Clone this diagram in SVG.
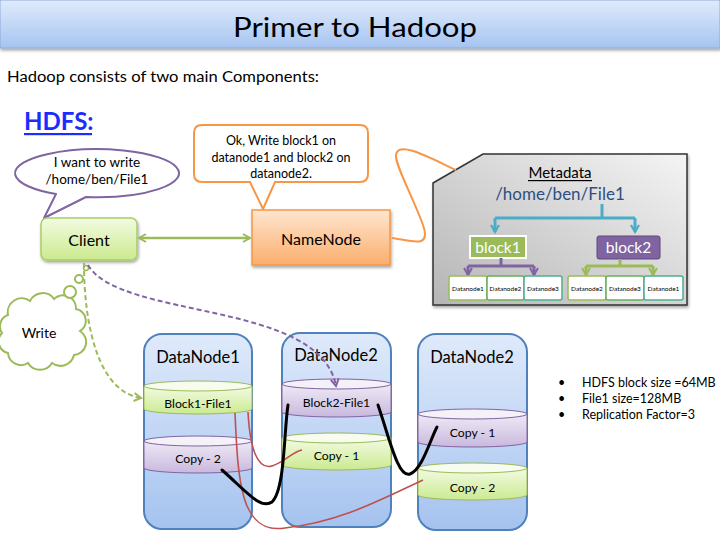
<svg xmlns="http://www.w3.org/2000/svg" width="720" height="540" viewBox="0 0 720 540">
<style>
text{font-family:Lato,"Liberation Sans",sans-serif;fill:#000}
.c{text-anchor:middle}
.dn{font-size:16.5px}
.cyl{font-size:12.2px}
.col{stroke:#4f81bd;stroke-width:2;fill:url(#gCol)}
.gb{fill:url(#gGreen);stroke:#9bbb59;stroke-width:1}
.gt{fill:#f7fcee;stroke:#9bbb59;stroke-width:1}
.pb{fill:url(#gPurple);stroke:#8064a2;stroke-width:1}
.pt{fill:#f5f1f9;stroke:#8064a2;stroke-width:1}
.small{font-size:6.5px}
.red{fill:none;stroke:#c0504d;stroke-width:1.6}
.blk{fill:none;stroke:#000;stroke-width:3;stroke-linecap:round}
</style>
<defs>
<linearGradient id="gTitle" x1="0" y1="0" x2="0" y2="1"><stop offset="0" stop-color="#e0ebfb"/><stop offset="1" stop-color="#a6c4f1"/></linearGradient>
<linearGradient id="gCol" x1="0" y1="0" x2="0" y2="1"><stop offset="0" stop-color="#dfeafb"/><stop offset="1" stop-color="#a5c3ef"/></linearGradient>
<linearGradient id="gGreen" x1="0" y1="0" x2="0" y2="1"><stop offset="0" stop-color="#f3fbe3"/><stop offset="1" stop-color="#cbea91"/></linearGradient>
<linearGradient id="gPurple" x1="0" y1="0" x2="0" y2="1"><stop offset="0" stop-color="#efeaf5"/><stop offset="1" stop-color="#c9b9de"/></linearGradient>
<linearGradient id="gClient" x1="0" y1="0" x2="0" y2="1"><stop offset="0" stop-color="#f3fbe2"/><stop offset="1" stop-color="#cbea8e"/></linearGradient>
<linearGradient id="gName" x1="0" y1="0" x2="0" y2="1"><stop offset="0" stop-color="#fee6d0"/><stop offset="1" stop-color="#fbae6c"/></linearGradient>
<linearGradient id="gMeta" x1="1" y1="0" x2="0" y2="1"><stop offset="0" stop-color="#f4f4f4"/><stop offset="1" stop-color="#b5b5b5"/></linearGradient>
<filter id="sh" x="-10%" y="-10%" width="130%" height="130%"><feDropShadow dx="1" dy="2" stdDeviation="1.5" flood-color="#000" flood-opacity="0.35"/></filter>
<marker id="aG" markerWidth="10" markerHeight="10" refX="8" refY="5" orient="auto-start-reverse" markerUnits="userSpaceOnUse"><path d="M1,1 L8,5 L1,9" fill="none" stroke="#9bbb59" stroke-width="2"/></marker>
<marker id="aP" markerWidth="10" markerHeight="10" refX="8" refY="5" orient="auto" markerUnits="userSpaceOnUse"><path d="M1,1 L8,5 L1,9" fill="none" stroke="#8064a2" stroke-width="2"/></marker>
<marker id="aT" markerWidth="10" markerHeight="10" refX="8" refY="5" orient="auto" markerUnits="userSpaceOnUse"><path d="M1,1 L8,5 L1,9" fill="none" stroke="#4bacc6" stroke-width="2.2"/></marker>
</defs>

<rect width="720" height="540" fill="#fff"/>

<g id="title">
<rect x="0" y="0" width="720" height="48" fill="url(#gTitle)" stroke="#8eaad8" stroke-width="1" filter="url(#sh)"/>
<text x="233" y="37" font-size="27" textLength="244" lengthAdjust="spacingAndGlyphs">Primer to Hadoop</text>
</g>
<text x="7" y="82" font-size="14.5" textLength="312" lengthAdjust="spacingAndGlyphs">Hadoop consists of two main Components:</text>
<g id="hdfs-label">
<text x="24" y="130" font-size="24" font-weight="bold" style="fill:#1a2dff">HDFS:</text>
<rect x="24" y="133" width="68" height="2.2" fill="#1a2dff"/>
</g>

<g id="client-bubble">
<path d="M44,218 L56,194 A82,24 0 1 1 86,197 Z" fill="#fff" stroke="#8064a2" stroke-width="2" stroke-linejoin="round"/>
<text x="97" y="167" class="c" font-size="13.5">I want to write</text>
<text x="97" y="184" class="c" font-size="13.5">/home/ben/File1</text>
</g>

<g id="name-callout">
<path d="M202,125 H360 Q368,125 368,133 V174 Q368,182 360,182 H275 L263,209 L250,182 H202 Q194,182 194,174 V133 Q194,125 202,125 Z" fill="#fff" stroke="#f79646" stroke-width="2"/>
<text x="281" y="145" class="c" font-size="12.5">Ok, Write block1 on</text>
<text x="281" y="162" class="c" font-size="12.5">datanode1 and block2 on</text>
<text x="281" y="178" class="c" font-size="12.5">datanode2.</text>
</g>

<g id="client">
<rect x="41" y="218" width="96" height="42" rx="6" fill="url(#gClient)" stroke="#a9cd6a" stroke-width="1.5" filter="url(#sh)"/>
<text x="89" y="246" class="c" font-size="16">Client</text>
</g>

<g id="namenode">
<rect x="252" y="210" width="138" height="55" fill="url(#gName)" stroke="#f79646" stroke-width="1.5" filter="url(#sh)"/>
<text x="321" y="245" class="c" font-size="16">NameNode</text>
</g>

<g id="metadata">
<polygon points="433,183 483,154 687,154 687,305 433,305" fill="url(#gMeta)" stroke="#333" stroke-width="1.5" filter="url(#sh)"/>
<text x="560" y="178" class="c" font-size="15">Metadata</text>
<rect x="528" y="180" width="64" height="1.2" fill="#000"/>
<text x="560" y="200" class="c" font-size="17" style="fill:#2d4f80">/home/ben/File1</text>
<g fill="none" stroke="#4bacc6" stroke-width="3">
<path d="M602,204 V218"/>
<path d="M495,218 H635"/>
<path d="M495,218 V232" marker-end="url(#aT)"/>
<path d="M635,218 V232" marker-end="url(#aT)"/>
</g>
<rect x="470" y="236" width="56" height="22" fill="#9bbb59" stroke="#fff" stroke-width="2"/>
<text x="498" y="253" class="c" font-size="15.5" style="fill:#fff">block1</text>
<rect x="597" y="236" width="63" height="23" rx="2" fill="#8064a2" stroke="#5f497a" stroke-width="1"/>
<text x="628.5" y="253" class="c" font-size="15.5" style="fill:#fff">block2</text>
<g fill="none" stroke="#8064a2" stroke-width="3">
<path d="M501,258 V266 M468,266 H534"/>
<path d="M468,266 V275" marker-end="url(#aP)"/>
<path d="M534,266 V275" marker-end="url(#aP)"/>
</g>
<g fill="none" stroke="#9bbb59" stroke-width="3">
<path d="M620,259 V266 M586,266 H653"/>
<path d="M586,266 V275" marker-end="url(#aG)"/>
<path d="M653,266 V275" marker-end="url(#aG)"/>
</g>
<g stroke-width="1.5" fill="#fff">
<rect x="449" y="276" width="38" height="24" rx="2" stroke="#9bbb59"/>
<rect x="487" y="276" width="37" height="24" rx="2" stroke="#6aaf5a"/>
<rect x="524" y="276" width="38" height="24" rx="2" stroke="#4fae8c"/>
<rect x="568" y="276" width="38" height="24" rx="2" stroke="#9bbb59"/>
<rect x="606" y="276" width="38" height="24" rx="2" stroke="#6aaf5a"/>
<rect x="644" y="276" width="39" height="24" rx="2" stroke="#4fae8c"/>
</g>
<text x="468" y="291" class="c small">Datanode1</text>
<text x="505.5" y="291" class="c small">Datanode2</text>
<text x="543" y="291" class="c small">Datanode3</text>
<text x="587" y="291" class="c small">Datanode2</text>
<text x="625" y="291" class="c small">Datanode3</text>
<text x="663.5" y="291" class="c small">Datanode1</text>
</g>

<g id="write-cloud">
<path d="M8,315 A14,14 0 0 1 30,301 A14,14 0 0 1 54,299 A13,13 0 0 1 76,309 A12,12 0 0 1 80,331 A13,13 0 0 1 74,355 A14,14 0 0 1 52,363 A14,14 0 0 1 28,363 A13,13 0 0 1 8,353 A12,12 0 0 1 2,333 A12,12 0 0 1 8,315 Z" fill="#fff" stroke="#9bbb59" stroke-width="2"/>
<circle cx="70" cy="292" r="6" fill="#fff" stroke="#9bbb59" stroke-width="2"/>
<circle cx="79" cy="279" r="4" fill="#fff" stroke="#9bbb59" stroke-width="2"/>
<circle cx="86" cy="268" r="2.5" fill="#fff" stroke="#9bbb59" stroke-width="1.5"/>
<text x="39" y="338" class="c" font-size="14">Write</text>
</g>

<g id="datanode1">
<rect x="144" y="334" width="108" height="195" rx="18" class="col"/>
<text x="198" y="363" class="c dn">DataNode1</text>
<path d="M144,386 V409 A54,5 0 0 0 252,409 V386 Z" class="gb"/>
<ellipse cx="198" cy="386" rx="54" ry="5" class="gt"/>
<text x="198" y="408" class="c cyl">Block1-File1</text>
<path d="M144,441 V468 A54,5 0 0 0 252,468 V441 Z" class="pb"/>
<ellipse cx="198" cy="441" rx="54" ry="5" class="pt"/>
<text x="198" y="463" class="c cyl">Copy - 2</text>
</g>

<g id="datanode2a">
<rect x="282" y="333" width="109" height="194" rx="18" class="col"/>
<text x="336" y="361" class="c dn">DataNode2</text>
<path d="M282,384 V412 A54.5,5 0 0 0 391,412 V384 Z" class="pb"/>
<ellipse cx="336.5" cy="384" rx="54.5" ry="5" class="pt"/>
<text x="336.5" y="407" class="c cyl">Block2-File1</text>
<path d="M282,438 V465 A54.5,5 0 0 0 391,465 V438 Z" class="gb"/>
<ellipse cx="336.5" cy="438" rx="54.5" ry="5" class="gt"/>
<text x="336.5" y="460" class="c cyl">Copy - 1</text>
</g>

<g id="datanode2b">
<rect x="418" y="334" width="109" height="196" rx="18" class="col"/>
<text x="472" y="363" class="c dn">DataNode2</text>
<path d="M418,414 V442 A54.5,5 0 0 0 527,442 V414 Z" class="pb"/>
<ellipse cx="472.5" cy="414" rx="54.5" ry="5" class="pt"/>
<text x="472.5" y="437" class="c cyl">Copy - 1</text>
<path d="M418,468 V495 A54.5,5 0 0 0 527,495 V468 Z" class="gb"/>
<ellipse cx="472.5" cy="468" rx="54.5" ry="5" class="gt"/>
<text x="472.5" y="492" class="c cyl">Copy - 2</text>
</g>

<g id="notes" font-size="12.5">
<text x="558" y="387">•</text><text x="582" y="387">HDFS block size =64MB</text>
<text x="558" y="403">•</text><text x="582" y="403">File1 size=128MB</text>
<text x="558" y="419">•</text><text x="582" y="419">Replication Factor=3</text>
</g>

<g id="connectors">
<path d="M139,238 H250" fill="none" stroke="#9bbb59" stroke-width="2.5" marker-start="url(#aG)" marker-end="url(#aG)"/>
<path d="M392,238 C410,240 432,250 423,225 C412,195 395,165 396,155 C398,140 430,158 456,170" fill="none" stroke="#f79646" stroke-width="2"/>
<path d="M84,263 C84,330 100,392 141,398" fill="none" stroke="#9bbb59" stroke-width="2" stroke-dasharray="5,3" marker-end="url(#aG)"/>
<path d="M88,265 C120,320 320,300 336,386" fill="none" stroke="#8064a2" stroke-width="2" stroke-dasharray="5,3" marker-end="url(#aP)"/>
<path d="M235,413 C238,480 240,535 285,528 C340,522 380,500 423,480" class="red"/>
<path d="M248,412 C250,450 258,470 272,466 C285,462 292,452 302,450" class="red"/>
<path d="M222,470 C245,490 260,510 272,502 C285,490 284,430 288,405" class="blk"/>
<path d="M378,405 C390,440 398,478 410,474 C422,470 430,440 437,427" class="blk"/>
</g>
</svg>
